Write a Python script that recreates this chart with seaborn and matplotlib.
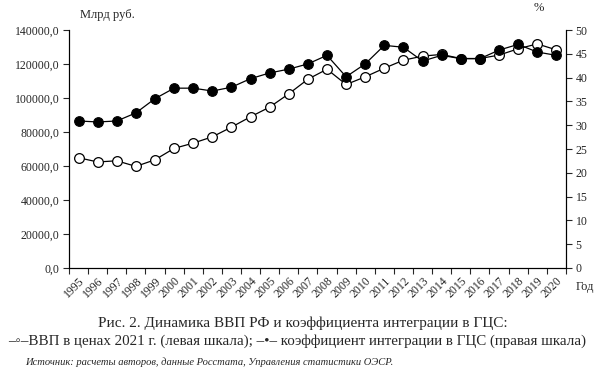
"""GDP of Russia vs GVC integration coefficient, 1995-2020."""
import matplotlib.pyplot as plt
import numpy as np
import pandas as pd
import seaborn as sns

years = list(range(1995, 2021))
gdp = [64900, 62400, 63100, 59800, 63700, 70400, 73500, 77200, 82900, 89000,
       94700, 102500, 111100, 117000, 108000, 112500, 117600, 122300, 124700,
       125700, 123300, 123300, 125300, 129000, 131900, 128400]
gvc = [30.9, 30.7, 30.9, 32.6, 35.6, 37.8, 37.8, 37.2, 38.0, 39.8, 41.0, 41.8,
       42.9, 44.7, 40.2, 42.9, 46.8, 46.4, 43.5, 44.7, 44.0, 44.0, 45.8, 47.0,
       45.4, 44.7]
left_ticks = [0, 20000, 40000, 60000, 80000, 100000, 120000, 140000]
right_ticks = list(range(0, 55, 5))

df = pd.DataFrame({"year": years, "gdp": gdp, "gvc": gvc})

sns.set_style("white")
plt.rcParams["font.family"] = ["Liberation Serif", "DejaVu Serif"]
plt.rcParams["font.size"] = 8.5

fig = plt.figure(figsize=(5.95, 3.72), dpi=100)
ax = fig.add_axes([0.116, 0.2796, 0.835, 0.6394])
ax2 = ax.twinx()

sns.lineplot(data=df, x="year", y="gdp", ax=ax, color="black", lw=0.9,
             marker="o", markersize=7, markerfacecolor="white",
             markeredgecolor="black", markeredgewidth=0.9)
sns.lineplot(data=df, x="year", y="gvc", ax=ax2, color="black", lw=0.9,
             marker="o", markersize=7, markerfacecolor="black",
             markeredgecolor="black")

ax.set_xlim(1994.5, 2020.5)
ax.set_ylim(0, 140000)
ax2.set_ylim(0, 50)
ax.set_yticks(left_ticks)
ax.set_yticklabels([f"{v},0" for v in left_ticks])
ax2.set_yticks(right_ticks)
ax.set_xticks(years)
ax.set_xticklabels([str(y) for y in years], rotation=45, ha="right",
                   rotation_mode="anchor")
ax.set_xticks(np.arange(1994.5, 2021, 1), minor=True)
ax.tick_params(axis="x", which="major", length=0, pad=5)
ax.tick_params(axis="x", which="minor", length=4, width=0.8, direction="out",
               bottom=True)
ax.tick_params(axis="y", length=4, width=0.8, direction="out", left=True, pad=3)
ax2.tick_params(axis="y", length=4, width=0.8, direction="out", right=True, pad=3)
ax.set_xlabel("")
ax.set_ylabel("")
ax2.set_ylabel("")

for a in (ax, ax2):
    a.spines["top"].set_visible(False)
    for s in ("left", "right", "bottom"):
        a.spines[s].set_color("black")
        a.spines[s].set_linewidth(0.8)

fig.text(0.135, 0.96, "Млрд руб.", fontsize=9, ha="left", va="center")
fig.text(0.905, 0.978, "%", fontsize=9, ha="center", va="center")
fig.text(0.983, 0.228, "Год", fontsize=9, ha="center", va="center")

fig.text(0.509, 0.132, "Рис. 2. Динамика ВВП РФ и коэффициента интеграции в ГЦС:",
         fontsize=11, ha="center", va="center")
fig.text(0.5, 0.083,
         "–◦–ВВП в ценах 2021 г. (левая шкала); –•– коэффициент интеграции в ГЦС (правая шкала)",
         fontsize=10.8, ha="center", va="center")
fig.text(0.042, 0.027,
         "Источник: расчеты авторов, данные Росстата, Управления статистики ОЭСР.",
         fontsize=7.6, style="italic", ha="left", va="center")

fig.savefig("out.png", dpi=100)
